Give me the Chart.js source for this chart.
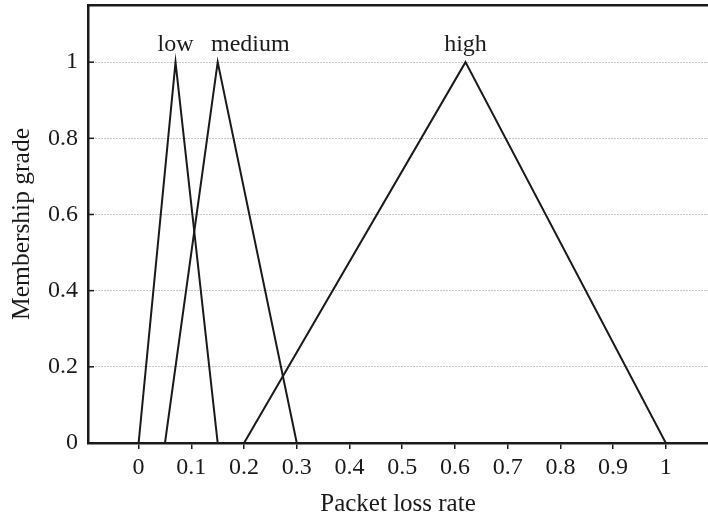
<!DOCTYPE html>
<html>
<head>
<meta charset="utf-8">
<script src="https://cdn.jsdelivr.net/npm/chart.js@4"></script>
<style>
  html, body { margin: 0; padding: 0; background: #fff; overflow: hidden; }
</style>
</head>
<body>
<canvas id="chart" width="708" height="521"></canvas>
<script>
// membership functions (triangles): x points and grades
const setNames = ['low', 'medium', 'high'];
const lowX = [0, 0.07, 0.15];
const mediumX = [0.05, 0.15, 0.3];
const highX = [0.2, 0.62, 1];
const gradeY = [0, 1, 0];

// where each set name is written (x in data units, above grade 1)
const labelAt = [0.07, 0.212, 0.62];

const xTicks = [0, 0.1, 0.2, 0.3, 0.4, 0.5, 0.6, 0.7, 0.8, 0.9, 1];
const yTicks = [0, 0.2, 0.4, 0.6, 0.8, 1];

const FONT = "'Liberation Serif', 'Times New Roman', serif";
const INK = '#1a1a1a';

function tri(xs) {
    return xs.map((x, i) => ({ x: x, y: gradeY[i] }));
}

const setLabels = {
    id: 'setLabels',
    afterDatasetsDraw(chart) {
        const ctx = chart.ctx;
        const xs = chart.scales.x, ys = chart.scales.y;
        ctx.save();
        ctx.font = '24px ' + FONT;
        ctx.fillStyle = INK;
        ctx.textAlign = 'center';
        ctx.textBaseline = 'alphabetic';
        setNames.forEach((name, i) => {
            ctx.fillText(name, xs.getPixelForValue(labelAt[i]), ys.getPixelForValue(1) - 11);
        });
        // small inward ticks on the y axis
        ctx.strokeStyle = INK;
        ctx.lineWidth = 1.5;
        yTicks.forEach(v => {
            const py = ys.getPixelForValue(v);
            ctx.beginPath();
            ctx.moveTo(xs.left, py);
            ctx.lineTo(xs.left + 6, py);
            ctx.stroke();
        });
        ctx.restore();
    }
};

const lineStyle = { borderColor: INK, borderWidth: 2, pointRadius: 0, showLine: true, fill: false, tension: 0 };

function noPad(axis) {
    axis.paddingTop = 0;
    axis.paddingBottom = 0;
    axis.paddingLeft = 0;
    axis.paddingRight = 0;
}

new Chart(document.getElementById('chart'), {
    type: 'scatter',
    data: {
        datasets: [
            Object.assign({ label: 'low', data: tri(lowX) }, lineStyle),
            Object.assign({ label: 'medium', data: tri(mediumX) }, lineStyle),
            Object.assign({ label: 'high', data: tri(highX) }, lineStyle)
        ]
    },
    options: {
        responsive: false,
        animation: false,
        layout: { padding: { top: 5, right: 0, left: 0, bottom: 0 } },
        plugins: { legend: { display: false }, tooltip: { enabled: false } },
        scales: {
            x: {
                type: 'linear',
                min: -0.096,
                max: 1.08,
                afterBuildTicks: axis => { axis.ticks = xTicks.map(v => ({ value: v })); },
                afterFit: axis => { axis.height = 78; noPad(axis); },
                ticks: {
                    color: INK,
                    padding: 4,
                    maxRotation: 0,
                    font: { family: FONT, size: 24 },
                    callback: v => String(v)
                },
                grid: { display: true, drawOnChartArea: false, drawTicks: true, tickLength: 6, color: INK, lineWidth: 1.5 },
                border: { display: true, color: INK, width: 2.5 },
                title: {
                    display: true,
                    text: 'Packet loss rate',
                    color: INK,
                    font: { family: FONT, size: 25 },
                    padding: { top: 0, bottom: 2 }
                }
            },
            x2: {
                type: 'linear',
                position: 'top',
                min: -0.096,
                max: 1.08,
                afterFit: axis => { axis.height = 0; noPad(axis); },
                ticks: { display: false },
                grid: { display: false, drawTicks: false },
                border: { display: true, color: INK, width: 2.5 }
            },
            y: {
                type: 'linear',
                min: 0,
                max: 1.15,
                afterBuildTicks: axis => { axis.ticks = yTicks.map(v => ({ value: v })); },
                afterFit: axis => { axis.width = 88; noPad(axis); },
                ticks: {
                    color: INK,
                    padding: 10,
                    font: { family: FONT, size: 24 },
                    callback: v => String(v)
                },
                grid: {
                    display: true,
                    drawTicks: false,
                    color: '#8c8c8c',
                    lineWidth: 1
                },
                border: { display: true, color: INK, width: 2.5, dash: [1, 2] },
                title: {
                    display: true,
                    text: 'Membership grade',
                    color: INK,
                    font: { family: FONT, size: 25.5 },
                    padding: { top: 7, bottom: 0 }
                }
            }
        }
    },
    plugins: [setLabels]
});
</script>
</body>
</html>
